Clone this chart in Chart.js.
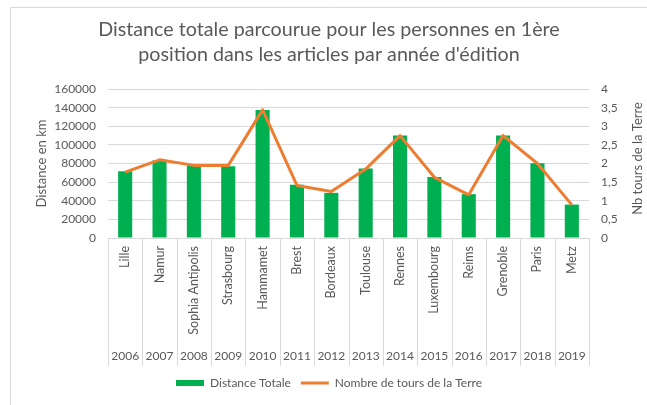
<!DOCTYPE html>
<html>
<head>
<meta charset="utf-8">
<script src="https://cdn.jsdelivr.net/npm/chart.js@4"></script>
<style>
  html, body { margin: 0; padding: 0; background: #fff; }
  #wrap { width: 647px; height: 405px; }
</style>
</head>
<body>
<div id="wrap"><canvas id="chart-1" width="647" height="405"></canvas></div>
<script>
const cities = ['Lille', 'Namur', 'Sophia Antipolis', 'Strasbourg', 'Hammamet', 'Brest', 'Bordeaux',
  'Toulouse', 'Rennes', 'Luxembourg', 'Reims', 'Grenoble', 'Paris', 'Metz'];
const years = ['2006', '2007', '2008', '2009', '2010', '2011', '2012', '2013', '2014', '2015', '2016', '2017', '2018', '2019'];
const distances = [71700, 83200, 77800, 77100, 137500, 57200, 48500, 74600, 110000, 65500, 47100, 110000, 80400, 35900];
const tours = [1.77, 2.1, 1.95, 1.95, 3.44, 1.41, 1.25, 1.85, 2.75, 1.63, 1.16, 2.75, 2.0, 0.89];

const FONT = 'Lato, "Open Sans", sans-serif';
const GREY = '#595959';
const LINE = '#d9d9d9';

// frame, category separators and the right axis title
const extras = {
  id: 'extras',
  beforeDraw(chart) {
    const ctx = chart.ctx;
    ctx.save();
    ctx.strokeStyle = LINE;
    ctx.lineWidth = 1;
    ctx.beginPath();
    ctx.moveTo(10.5, 405);
    ctx.lineTo(10.5, 7.5);
    ctx.lineTo(647, 7.5);
    ctx.stroke();
    ctx.restore();
  },
  afterDraw(chart) {
    const ctx = chart.ctx;
    const xs = chart.scales.x;
    const x2 = chart.scales.x2;
    const step = xs.width / cities.length;
    ctx.save();
    ctx.strokeStyle = LINE;
    ctx.lineWidth = 1;
    ctx.beginPath();
    for (let i = 0; i <= cities.length; i++) {
      const px = Math.round(xs.left + i * step) + 0.5;
      ctx.moveTo(px, xs.top);
      ctx.lineTo(px, x2.bottom - 1);
    }
    ctx.stroke();

    const yr = chart.scales.y1;
    ctx.fillStyle = GREY;
    ctx.font = '13px ' + FONT;
    ctx.textAlign = 'center';
    ctx.textBaseline = 'middle';
    ctx.translate(638, (yr.top + yr.bottom) / 2 - 5);
    ctx.rotate(-Math.PI / 2);
    ctx.fillText('Nb tours de la Terre', 0, 0);
    ctx.restore();
  }
};

new Chart(document.getElementById('chart-1'), {
  data: {
    labels: cities,
    datasets: [{
      type: 'bar',
      label: 'Distance Totale',
      data: distances,
      backgroundColor: '#00b050',
      borderWidth: 0,
      barPercentage: 0.41,
      categoryPercentage: 1,
      yAxisID: 'y',
      order: 1,
      pointStyle: 'rect'
    }, {
      type: 'line',
      label: 'Nombre de tours de la Terre',
      data: tours,
      borderColor: '#ed7d31',
      backgroundColor: '#ed7d31',
      borderWidth: 3,
      borderJoinStyle: 'round',
      tension: 0,
      pointRadius: 0,
      yAxisID: 'y1',
      order: 0,
      pointStyle: 'line'
    }]
  },
  plugins: [extras],
  options: {
    responsive: false,
    animation: false,
    layout: { padding: { left: 11, right: 0, top: 0, bottom: 6 } },
    plugins: {
      title: {
        display: true,
        text: ['Distance totale parcourue pour les personnes en 1ère', 'position dans les articles par année d\'édition'],
        color: GREY,
        font: { family: FONT, size: 19.7, weight: 'normal', lineHeight: 1.27 },
        padding: { top: 17.5, bottom: 21.5 }
      },
      legend: {
        position: 'bottom',
        labels: {
          usePointStyle: true,
          pointStyleWidth: 28,
          boxHeight: 6,
          padding: 10,
          color: GREY,
          font: { family: FONT, size: 12 },
          sort: (a, b) => a.datasetIndex - b.datasetIndex
        }
      },
      tooltip: { enabled: false }
    },
    scales: {
      x: {
        type: 'category',
        position: 'bottom',
        weight: 0,
        offset: true,
        grid: { display: false, drawTicks: false },
        border: { display: true, color: LINE },
        ticks: {
          autoSkip: false,
          minRotation: 90,
          maxRotation: 90,
          padding: 8,
          color: GREY,
          font: { family: FONT, size: 12.5 }
        },
        afterFit: s => { s.height = 102; }
      },
      x2: {
        type: 'category',
        position: 'bottom',
        weight: 1,
        offset: true,
        labels: years,
        grid: { display: false, drawTicks: false },
        border: { display: false },
        ticks: {
          autoSkip: false,
          maxRotation: 0,
          padding: 9,
          color: GREY,
          font: { family: FONT, size: 12 }
        },
        afterFit: s => { s.height = 27; }
      },
      y: {
        position: 'left',
        min: 0,
        max: 160000,
        grid: { color: LINE, drawTicks: false },
        border: { display: false },
        ticks: {
          stepSize: 20000,
          padding: 12,
          color: GREY,
          font: { family: FONT, size: 12 },
          callback: v => String(v)
        },
        title: {
          display: true,
          text: 'Distance en km',
          color: GREY,
          font: { family: FONT, size: 13 },
          padding: { top: 23, bottom: 0 }
        },
        afterFit: s => { s.width = 97; }
      },
      y1: {
        position: 'right',
        min: 0,
        max: 4,
        grid: { drawOnChartArea: false, drawTicks: false },
        border: { display: false },
        ticks: {
          stepSize: 0.5,
          padding: 12,
          color: GREY,
          font: { family: FONT, size: 12 },
          callback: v => String(v).replace('.', ',')
        },
        afterFit: s => { s.width = 58; }
      }
    }
  }
});
</script>
</body>
</html>
